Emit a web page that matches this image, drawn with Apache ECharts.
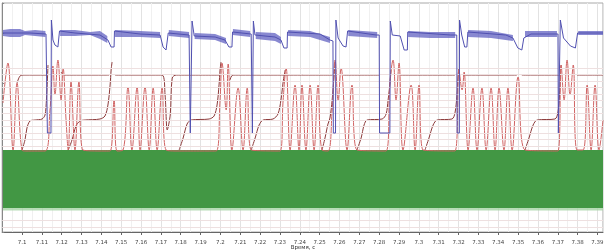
<!DOCTYPE html>
<html><head><meta charset="utf-8">
<script src="https://cdn.jsdelivr.net/npm/echarts@6/dist/echarts.min.js"></script>
<style>html,body{margin:0;padding:0;background:#fff}#c{width:606px;height:250px}</style>
</head><body><div id="c"></div>
<script>
const timeMin = 7.09, timeMax = 7.3928, timeStep = 0.01;
const xAxisTitle = 'Время, с';

// blue channel (arbitrary units)
const blueTrace = [[7.0904,100],[7.1040,100],[7.1121,99],[7.1126,99],[7.1128,0],[7.1146,0],[7.1148,113],[7.1156,93],[7.1166,88],[7.1181,86],[7.1186,87],[7.1189,102],[7.1267,100],[7.1393,98],[7.1433,93],[7.1449,86],[7.1464,86],[7.1466,102],[7.1595,99],[7.1696,98],[7.1711,86],[7.1726,83],[7.1734,83],[7.1737,100],[7.1842,98],[7.1847,98],[7.1848,0],[7.1854,0],[7.1857,112],[7.1868,97],[7.1973,96],[7.2023,93],[7.2043,86],[7.2058,86],[7.2061,101],[7.2155,99],[7.2160,99],[7.2161,0],[7.2165,0],[7.2166,112],[7.2174,98],[7.2275,96],[7.2305,93],[7.2320,85],[7.2336,85],[7.2338,101],[7.2502,99],[7.2552,93],[7.2567,92],[7.2569,0],[7.2580,0],[7.2582,113],[7.2593,95],[7.2618,87],[7.2633,86],[7.2641,102],[7.2785,98],[7.2800,98],[7.2802,0],[7.2854,0],[7.2856,112],[7.2866,98],[7.2906,97],[7.2926,83],[7.2942,83],[7.2944,101],[7.3161,98],[7.3191,98],[7.3193,0],[7.3204,0],[7.3205,113],[7.3216,98],[7.3231,86],[7.3242,86],[7.3247,101],[7.3438,98],[7.3474,95],[7.3499,85],[7.3519,83],[7.3529,95],[7.3565,99],[7.3701,99],[7.3703,0],[7.3711,0],[7.3713,113],[7.3729,95],[7.3764,87],[7.3789,85],[7.3797,85],[7.3800,100],[7.3928,100]];

// blue ripple envelope segments: [time, low, high]
const blueRipple = [
 [[7.0904,97,103],[7.0940,96,104],[7.0990,96,104],[7.1015,98,102],[7.1066,97,103],[7.1118,96,102]],
 [[7.1192,97,103],[7.1267,97,103],[7.1343,98,101],[7.1393,94,102],[7.1430,90,97]],
 [[7.1469,96,103],[7.1595,96,102],[7.1696,95,101]],
 [[7.1740,97,103],[7.1842,95,101]],
 [[7.1870,94,100],[7.1973,93,99],[7.2028,89,95]],
 [[7.2063,98,104],[7.2150,96,102]],
 [[7.2178,94,101],[7.2275,92,100],[7.2305,89,96]],
 [[7.2341,97,103],[7.2452,96,102],[7.2552,90,96]],
 [[7.2644,97,103],[7.2790,95,101]],
 [[7.2946,96,102],[7.3057,95,101],[7.3183,95,101]],
 [[7.3248,96,103],[7.3364,95,102],[7.3474,92,98]],
 [[7.3535,96,102],[7.3696,96,102]],
 [[7.3803,98,102],[7.3928,98,102]]
];

// red oscillation channel
const redOsc = [[7.0904,47],[7.0929,87],[7.0955,0],[7.0975,67],[7.1000,0],[7.1020,-1],[7.1116,-1],[7.1141,40],[7.1156,84],[7.1166,55],[7.1181,90],[7.1197,50],[7.1207,82],[7.1222,30],[7.1233,0],[7.1247,68],[7.1267,0],[7.1287,68],[7.1307,0],[7.1418,-1],[7.1444,-1],[7.1464,50],[7.1479,-1],[7.1509,0],[7.1534,63],[7.1554,0],[7.1580,63],[7.1595,0],[7.1620,63],[7.1641,0],[7.1661,62],[7.1681,0],[7.1706,62],[7.1726,0],[7.1792,-1],[7.1978,-1],[7.1998,50],[7.2008,87],[7.2029,40],[7.2039,86],[7.2058,0],[7.2089,62],[7.2114,0],[7.2135,62],[7.2155,0],[7.2300,-1],[7.2316,50],[7.2331,82],[7.2351,0],[7.2376,65],[7.2396,0],[7.2411,65],[7.2431,0],[7.2452,65],[7.2472,0],[7.2492,65],[7.2512,0],[7.2542,-1],[7.2563,40],[7.2578,90],[7.2593,50],[7.2608,82],[7.2638,0],[7.2663,65],[7.2688,0],[7.2834,-1],[7.2855,70],[7.2870,90],[7.2885,50],[7.2900,87],[7.2920,0],[7.2961,65],[7.2981,0],[7.3001,65],[7.3021,0],[7.3182,-1],[7.3202,80],[7.3218,60],[7.3228,78],[7.3248,0],[7.3273,62],[7.3293,0],[7.3318,62],[7.3339,0],[7.3364,62],[7.3384,0],[7.3404,62],[7.3429,0],[7.3449,62],[7.3470,0],[7.3500,73],[7.3535,0],[7.3701,-1],[7.3717,85],[7.3732,50],[7.3747,90],[7.3762,55],[7.3778,85],[7.3797,0],[7.3828,0],[7.3848,65],[7.3868,0],[7.3888,65],[7.3908,0],[7.3928,30]];

// red step channel: rising S-curves
const redRise = [
 [7.1000,0],[7.1015,10],[7.1025,22],[7.1040,29],[7.1066,30],[7.1101,31],[7.1116,35],[7.1123,50],[7.1128,70],[7.1131,85],null,
 [7.1233,0],[7.1252,10],[7.1272,24],[7.1292,29],[7.1318,30],[7.1393,31],[7.1418,34],[7.1433,45],[7.1444,65],[7.1449,80],[7.1454,88],null,
 [7.1792,0],[7.1812,12],[7.1832,26],[7.1852,30],[7.1943,31],[7.1968,34],[7.1983,45],[7.1993,65],[7.1998,80],[7.2003,88],null,
 [7.2155,0],[7.2175,12],[7.2195,25],[7.2215,30],[7.2265,31],[7.2290,36],[7.2305,50],[7.2316,68],[7.2326,80],null,
 [7.2512,0],[7.2527,12],[7.2542,26],[7.2552,32],[7.2563,50],[7.2573,75],[7.2578,88],null,
 [7.2688,0],[7.2709,12],[7.2724,25],[7.2739,30],[7.2815,31],[7.2835,36],[7.2845,50],[7.2855,68],[7.2860,80],null,
 [7.3031,0],[7.3051,12],[7.3072,25],[7.3092,30],[7.3167,31],[7.3182,37],[7.3192,55],[7.3197,72],[7.3202,82],null,
 [7.3535,0],[7.3555,12],[7.3576,25],[7.3596,30],[7.3686,31],[7.3701,38],[7.3709,55],[7.3714,75],[7.3717,85]
];

// red step channel: upper level
const redUpper = [
 [7.0975,67],[7.0990,74],[7.1010,75],[7.1121,75],[7.1126,75],null,
 [7.1197,78],[7.1212,75],[7.1439,75],null,
 [7.1469,75],[7.1706,75],[7.1721,55],[7.1732,20],[7.1747,35],[7.1757,72],[7.1777,75],[7.1993,75],null,
 [7.2048,70],[7.2063,75],[7.2565,75],null,
 [7.2618,75],[7.2800,75],null,
 [7.2906,75],[7.3182,75],null,
 [7.3223,75],[7.3494,75],null,
 [7.3519,75],[7.3713,75],null,
 [7.3797,75],[7.3928,75]
];

// green channel envelope
const greenTime = [7.0904, 7.3928];
const greenLow = [-29, -29];
const greenHigh = [29, 29];
const greenFringe = [-31.5, -31.5];

// faint horizontal reference levels (red channel units)
const redGridLevels = [82, 75.5, 69, 62.5, 56, 49.5, 43, 36.5, 30, 23.5, 17, 10.5, 4, -70, -77];

const chart = echarts.init(document.getElementById('c'), null, {renderer: 'canvas'});

function bandSeries(segments, yAxisIndex, fill, opacity, z) {
  return {
    type: 'custom', yAxisIndex, z, silent: true, clip: true,
    data: segments.map(s => [s[0][0], s[0][1]]),
    renderItem(params, api) {
      const seg = segments[params.dataIndex];
      const top = seg.map(p => api.coord([p[0], p[2]]));
      const bot = seg.map(p => api.coord([p[0], p[1]])).reverse();
      return {type: 'polygon', shape: {points: top.concat(bot)}, style: {fill, opacity}};
    }
  };
}
const greenBand = [greenTime.map((t, i) => [t, greenLow[i], greenHigh[i]])];
const greenEdge = [greenTime.map((t, i) => [t, greenFringe[i], greenLow[i]])];

chart.setOption({
  animation: false,
  title: {text: xAxisTitle, left: 'center', top: 244.5, padding: 0, itemGap: 0,
          textStyle: {fontSize: 5.5, fontWeight: 'normal', color: '#333', fontFamily: 'DejaVu Sans'}},
  grid: {left: 2.16, right: 3, top: 3, bottom: 18, outerBoundsMode: 'none', containLabel: false,
         show: true, borderColor: '#a8a8a8', borderWidth: 1},
  xAxis: {
    type: 'value', min: timeMin, max: timeMax, interval: timeStep,
    axisLine: {onZero: false, lineStyle: {color: '#666'}},
    axisTick: {length: 3, lineStyle: {color: '#666'}},
    axisLabel: {fontSize: 5.5, color: '#444', margin: 8, showMinLabel: false, showMaxLabel: false,
      fontFamily: 'DejaVu Sans', formatter: v => String(+v.toFixed(2))},
    splitLine: {show: true, lineStyle: {color: '#e2e2e2', width: 1}},
    minorTick: {show: false, splitNumber: 2},
    minorSplitLine: {show: true, lineStyle: {color: '#f0f0f0', width: 1}}
  },
  yAxis: [
    {type: 'value', min: -99, max: 130, axisLabel: {show: false}, splitLine: {show: false},
     axisLine: {show: true, onZero: false, lineStyle: {color: '#888'}}, axisTick: {show: true, inside: true, length: 2, lineStyle: {color: '#888'}}},
    {type: 'value', min: -82, max: 147, show: false, splitLine: {show: false}},
    {type: 'value', min: -53, max: 176, show: false, splitLine: {show: false}}
  ],
  series: [
    {type: 'line', yAxisIndex: 1, data: [], symbol: 'none', silent: true,
     markLine: {silent: true, symbol: 'none', label: {show: false},
       lineStyle: {color: '#eee0e0', width: 1, type: 'solid'},
       data: redGridLevels.map(v => ({yAxis: v}))}},
    bandSeries(greenBand, 2, '#429744', 1, 2),
    bandSeries(greenEdge, 2, '#a6d4a6', 0.8, 2),
    {type: 'line', yAxisIndex: 1, data: redUpper, symbol: 'none', smooth: 0.3, connectNulls: false, z: 3,
     lineStyle: {color: '#8c3a3a', width: 1}},
    {type: 'line', yAxisIndex: 1, data: redRise, symbol: 'none', smooth: 0.3, connectNulls: false, z: 3,
     lineStyle: {color: '#8c3a3a', width: 1}},
    {type: 'line', yAxisIndex: 1, data: redOsc, symbol: 'none', smooth: 0.4, z: 3,
     lineStyle: {color: '#d06464', width: 1}},
    bandSeries(blueRipple, 0, '#6262c2', 0.75, 4),
    {type: 'line', yAxisIndex: 0, data: blueTrace, symbol: 'none', z: 5,
     lineStyle: {color: '#5050b0', width: 1}}
  ]
});
</script></body></html>
